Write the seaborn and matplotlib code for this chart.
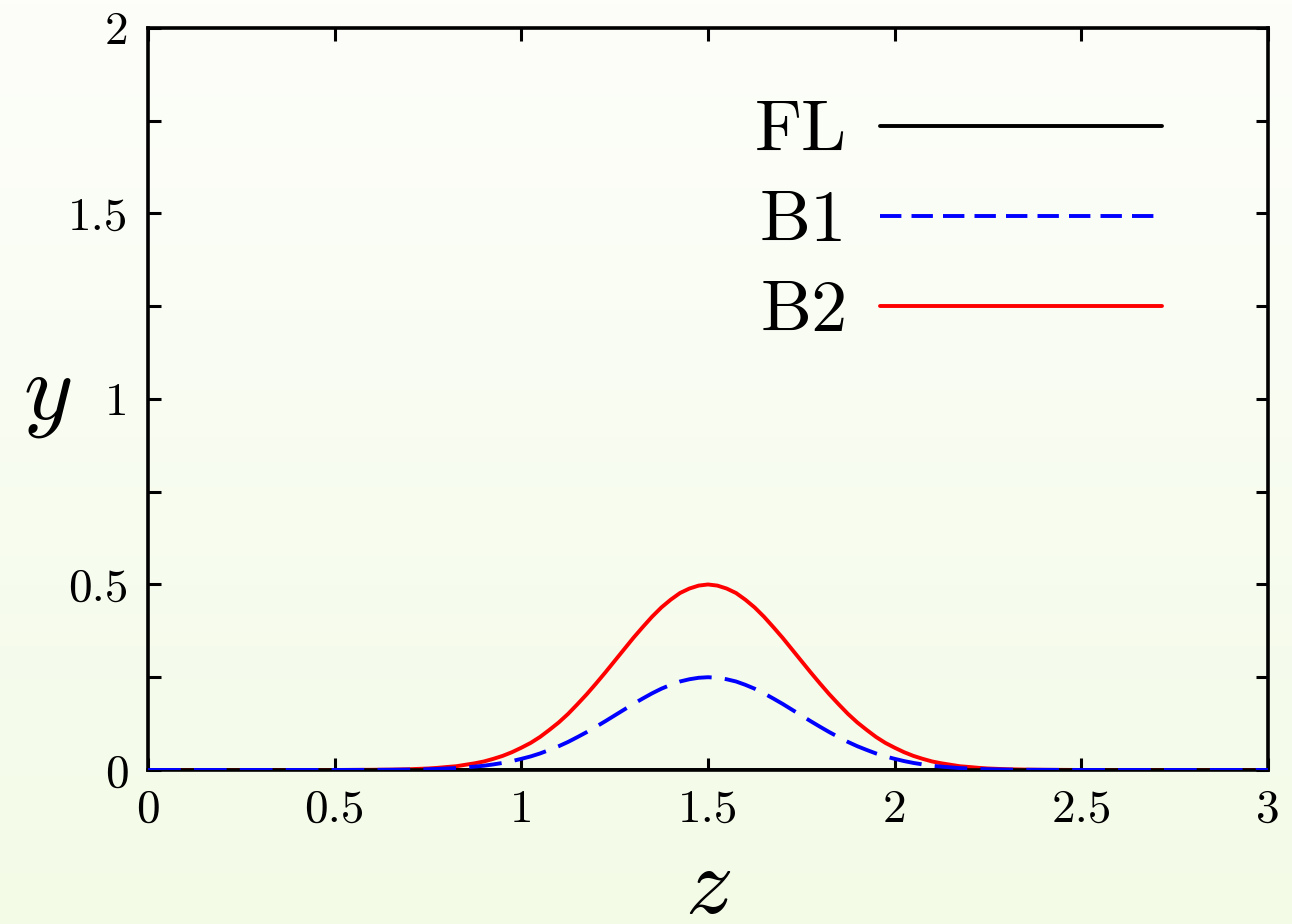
"""Profiles of FL, B1 and B2 along z."""
import numpy as np
import pandas as pd
import seaborn as sns
import matplotlib.pyplot as plt
from matplotlib.colors import LinearSegmentedColormap
from matplotlib.ticker import MultipleLocator

# values
Z = [0.0, 0.5, 0.6, 0.65,
     0.7, 0.725, 0.75, 0.775, 0.8, 0.825, 0.85, 0.875, 0.9, 0.925, 0.95, 0.975,
     1.0, 1.025, 1.05, 1.075, 1.1, 1.125, 1.15, 1.175, 1.2, 1.225, 1.25, 1.275,
     1.3, 1.325, 1.35, 1.375, 1.4, 1.425, 1.45, 1.475, 1.5, 1.525, 1.55, 1.575,
     1.6, 1.625, 1.65, 1.675, 1.7, 1.725, 1.75, 1.775, 1.8, 1.825, 1.85, 1.875,
     1.9, 1.925, 1.95, 1.975, 2.0, 2.025, 2.05, 2.075, 2.1, 2.125, 2.15, 2.175,
     2.2, 2.225, 2.25, 2.275, 2.3,
     2.35, 2.4, 2.5, 3.0]
FL = [0.0] * len(Z)
B2 = [0.0, 0.0, 0.0005, 0.001,
      0.002, 0.003, 0.004, 0.0057, 0.008, 0.010, 0.014, 0.018, 0.023, 0.030, 0.038, 0.048,
      0.060, 0.073, 0.089, 0.108, 0.128, 0.151, 0.177, 0.204, 0.233, 0.263, 0.294, 0.325,
      0.356, 0.385, 0.413, 0.438, 0.459, 0.477, 0.489, 0.497, 0.500, 0.497, 0.489, 0.477,
      0.459, 0.438, 0.413, 0.385, 0.356, 0.325, 0.294, 0.263, 0.233, 0.204, 0.177, 0.151,
      0.128, 0.108, 0.089, 0.073, 0.060, 0.048, 0.038, 0.030, 0.023, 0.018, 0.014, 0.010,
      0.008, 0.0057, 0.004, 0.003, 0.002,
      0.001, 0.0005, 0.0, 0.0]
B1 = [0.0, 0.0, 0.0003, 0.0005,
      0.001, 0.0015, 0.002, 0.0028, 0.004, 0.005, 0.007, 0.009, 0.0115, 0.015, 0.019, 0.024,
      0.030, 0.0365, 0.0445, 0.054, 0.064, 0.0755, 0.0885, 0.102, 0.1165, 0.1315, 0.147, 0.1625,
      0.178, 0.1925, 0.2065, 0.219, 0.2295, 0.2385, 0.2445, 0.2485, 0.250, 0.2485, 0.2445, 0.2385,
      0.2295, 0.219, 0.2065, 0.1925, 0.178, 0.1625, 0.147, 0.1315, 0.1165, 0.102, 0.0885, 0.0755,
      0.064, 0.054, 0.0445, 0.0365, 0.030, 0.024, 0.019, 0.015, 0.0115, 0.009, 0.007, 0.005,
      0.004, 0.0028, 0.002, 0.0015, 0.001,
      0.0005, 0.0003, 0.0, 0.0]
X_TICKS = [0, 0.5, 1, 1.5, 2, 2.5, 3]
Y_TICKS = [0, 0.5, 1, 1.5, 2]


def main():
    sns.set_theme(style="ticks")
    plt.rcParams["font.family"] = ["cmr10", "DejaVu Serif"]
    plt.rcParams["mathtext.fontset"] = "cm"
    plt.rcParams["axes.unicode_minus"] = False
    plt.rcParams["text.color"] = "black"
    plt.rcParams["xtick.color"] = "black"
    plt.rcParams["ytick.color"] = "black"
    plt.rcParams["axes.labelcolor"] = "black"

    df = pd.DataFrame({"z": Z, "FL": FL, "B1": B1, "B2": B2})

    fig = plt.figure(figsize=(12.92, 9.24), dpi=100)
    # soft vertical background gradient
    bg = fig.add_axes([0, 0, 1, 1], zorder=-10)
    cmap = LinearSegmentedColormap.from_list("bg", ["#fdfefa", "#f3fbe7"])
    bg.imshow(np.linspace(0, 1, 256).reshape(-1, 1), aspect="auto", cmap=cmap,
              extent=[0, 1, 0, 1])
    bg.axis("off")

    ax = fig.add_axes([0.1146, 0.1667, 0.8668, 0.8030])
    ax.patch.set_alpha(0)

    lw = 2.8
    sns.lineplot(data=df, x="z", y="FL", color="black", lw=lw, label="FL", ax=ax, zorder=2)
    sns.lineplot(data=df, x="z", y="B1", color="#0000ff", lw=lw, label="B1", ax=ax, zorder=4)
    ax.lines[-1].set_dashes((8.4, 3.4))
    sns.lineplot(data=df, x="z", y="B2", color="#ff0000", lw=lw, label="B2", ax=ax, zorder=3)

    ax.set_xlim(0, 3)
    ax.set_ylim(0, 2)
    ax.set_xticks(X_TICKS)
    ax.set_xticklabels([f"{v:g}" for v in X_TICKS])
    ax.set_yticks(Y_TICKS)
    ax.set_yticklabels([f"{v:g}" for v in Y_TICKS])
    ax.yaxis.set_minor_locator(MultipleLocator(0.25))
    ax.tick_params(which="both", direction="in", top=True, right=True, length=9,
                   width=2.2, color="black", labelsize=34)
    ax.tick_params(axis="x", pad=14)
    ax.tick_params(axis="y", pad=14)
    for side in ax.spines.values():
        side.set_linewidth(2.6)
        side.set_color("black")
        side.set_zorder(3.5)

    ax.set_xlabel("$z$", fontsize=68)
    ax.xaxis.set_label_coords(0.5, -0.105)
    ax.set_ylabel("$y$", fontsize=68, rotation=0, va="center", ha="center")
    ax.yaxis.set_label_coords(-0.09, 0.5)

    leg = ax.legend(loc="upper right", bbox_to_anchor=(0.905, 0.903), frameon=False,
                    markerfirst=False, fontsize=52, handlelength=3.9, handletextpad=0.45,
                    labelspacing=0.35, borderaxespad=0, borderpad=0)
    for line in leg.get_lines():
        line.set_linewidth(lw)
    leg.get_lines()[1].set_dashes((5.5, 2.6))

    fig.savefig("out.png", dpi=100)
    plt.close(fig)


if __name__ == "__main__":
    main()
